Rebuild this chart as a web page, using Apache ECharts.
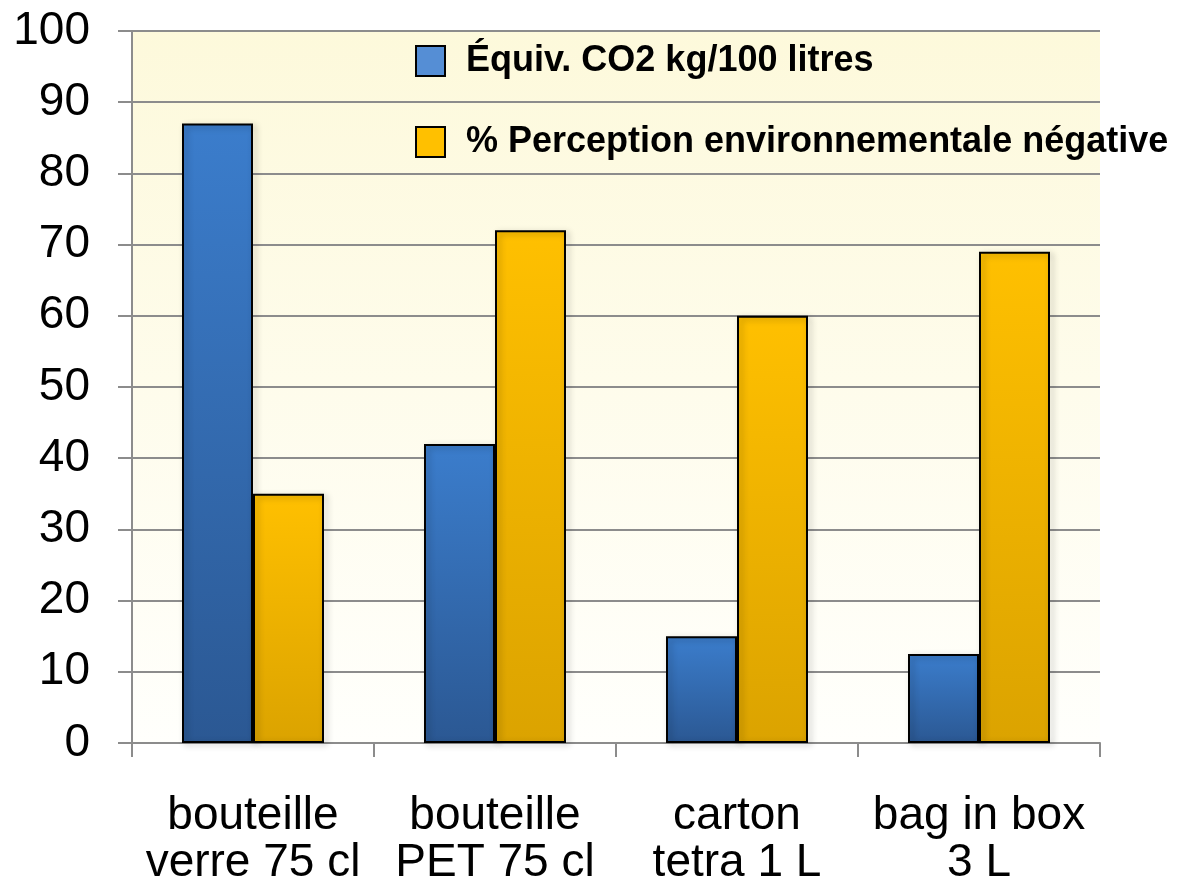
<!DOCTYPE html>
<html>
<head>
<meta charset="utf-8">
<script src="https://cdn.jsdelivr.net/npm/echarts@6/dist/echarts.min.js"></script>
<style>
  html, body { margin: 0; padding: 0; background: #fff; }
  #chart { width: 1195px; height: 888px; }
</style>
</head>
<body>
<div id="chart"></div>
<script>
// emballages du vin
const categories = ["bouteille\nverre 75 cl", "bouteille\nPET 75 cl", "carton\ntetra 1 L", "bag in box\n3 L"];
const co2Values = [87, 42, 15, 12.5];
const perceptionValues = [35, 72, 60, 69];
const seriesNames = ["Équiv. CO2 kg/100 litres", "% Perception environnementale négative"];

const chart = echarts.init(document.getElementById("chart"));

function grad(top, bottom) {
  return new echarts.graphic.LinearGradient(0, 0, 0, 1, [
    { offset: 0, color: top },
    { offset: 1, color: bottom },
  ]);
}

const barShadow = {
  borderColor: "#000",
  borderWidth: 2,
  shadowBlur: 6,
  shadowOffsetX: 3,
  shadowOffsetY: 2,
  shadowColor: "rgba(0,0,0,0.3)",
};

const option = {
  backgroundColor: "#fff",
  textStyle: { fontFamily: "Liberation Sans, Arial, sans-serif" },
  grid: {
    left: 132,
    right: 95,
    top: 31,
    bottom: 145,
    show: true,
    borderWidth: 0,
    backgroundColor: grad("#fdf9db", "#fffffc"),
  },
  legend: {
    orient: "vertical",
    left: 415,
    top: 43,
    padding: 0,
    icon: "rect",
    itemWidth: 29,
    itemHeight: 30,
    itemGap: 45,
    textStyle: {
      fontFamily: "Liberation Sans, Arial, sans-serif",
      fontWeight: "bold",
      fontSize: 36,
      color: "#000",
      padding: [0, 0, 0, 16],
    },
    data: [
      { name: seriesNames[0], itemStyle: { color: "#558ed5", borderColor: "#000", borderWidth: 2, shadowBlur: 0 } },
      { name: seriesNames[1], itemStyle: { color: "#ffc000", borderColor: "#000", borderWidth: 2, shadowBlur: 0 } },
    ],
  },
  xAxis: {
    type: "category",
    data: categories,
    axisLine: { lineStyle: { color: "#8c8c8c", width: 2 } },
    axisTick: { show: true, length: 14, alignWithLabel: false, lineStyle: { color: "#8c8c8c", width: 2 } },
    axisLabel: {
      color: "#000",
      fontSize: 46,
      lineHeight: 47,
      margin: 50,
      interval: 0,
    },
  },
  yAxis: {
    type: "value",
    min: 0,
    max: 100,
    interval: 10,
    axisLine: { show: true, lineStyle: { color: "#8c8c8c", width: 2 } },
    axisTick: { show: true, length: 14, lineStyle: { color: "#8c8c8c", width: 2 } },
    axisLabel: { color: "#000", fontSize: 46, margin: 42 },
    splitLine: { lineStyle: { color: "#8c8c8c", width: 2 } },
  },
  series: [
    {
      name: seriesNames[0],
      type: "bar",
      data: co2Values,
      barWidth: 71,
      barGap: "0%",
      itemStyle: Object.assign({ color: grad("#3b7dcc", "#2b5893") }, barShadow),
    },
    {
      name: seriesNames[1],
      type: "bar",
      data: perceptionValues,
      barWidth: 71,
      itemStyle: Object.assign({ color: grad("#ffc000", "#dba300") }, barShadow),
    },
  ],
};

chart.setOption(option);
</script>
</body>
</html>
